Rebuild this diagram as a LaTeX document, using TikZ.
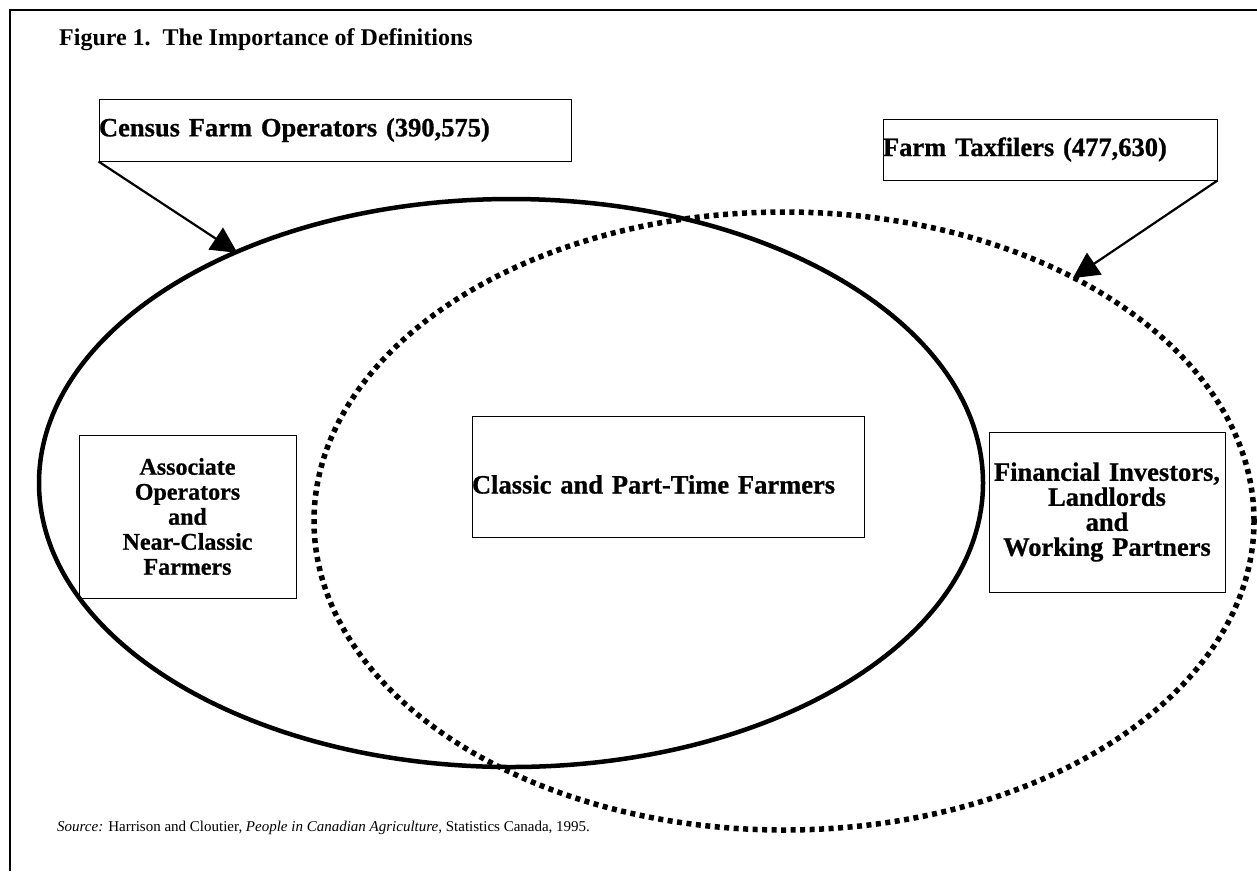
\documentclass[tikz,border=0pt]{standalone}
\usepackage{fontspec}
\setmainfont{Liberation Serif}
\newfontfamily\heavyfont[FakeBold=0.8]{Liberation Serif Bold}
\usetikzlibrary{shapes.geometric,arrows.meta}

\begin{document}
\begin{tikzpicture}[x=1pt, y=-1pt,
    txtbox/.style={draw, line width=1pt, inner sep=0pt, font=\fontsize{26.5}{25}\selectfont\heavyfont},
    setline/.style={ellipse, draw, line width=4.5pt, inner sep=0pt},
    dotline/.style={dash pattern=on 5pt off 4.5pt, line width=5.5pt},
    pointer/.style={line width=2.2pt, shorten >=-4pt, -{Triangle[length=26pt, width=26pt]}}]
  \useasboundingbox (0,0) rectangle (1257,871);

  % Frame
  \draw[line width=1.2pt] (10,871) -- (10,10) -- (1257,10);

  % Title and source
  \node[anchor=base west, inner sep=0pt, font=\fontsize{24}{28}\selectfont\bfseries] (title) at (59,45) {Figure 1.\ \ The Importance of Definitions};
  \node[anchor=base west, inner sep=0pt, font=\fontsize{15}{18}\selectfont] (source) at (57,831) {\textit{Source:} Harrison and Cloutier, \textit{People in Canadian Agriculture}, Statistics Canada, 1995.};

  % Sets
  \node[setline, minimum width=944, minimum height=568] (operators) at (511,483) {};
  \node[setline, dotline, minimum width=940, minimum height=618] (taxfilers) at (784,521) {};

  % Boxes
  \node[txtbox, minimum width=472, minimum height=62, text width=472, align=left] (census) at (335,130) {Census Farm Operators (390,575)};
  \node[txtbox, minimum width=334, minimum height=61, text width=334, align=left] (filers) at (1050,149.5) {Farm Taxfilers (477,630)};
  \node[txtbox, minimum width=217, minimum height=163, text width=217, align=center, font=\fontsize{24}{25}\selectfont\heavyfont] (associate) at (187.5,516.5) {Associate\\Operators\\and\\Near-Classic\\Farmers};
  \node[txtbox, minimum width=392, minimum height=121, text width=392, align=left, text height=34pt, text depth=0pt] (classic) at (668,476.5) {Classic and Part-Time Farmers};
  \node[txtbox, minimum width=236, minimum height=160, text width=236, align=center] (investors) at (1107,512) {Financial Investors,\\Landlords\\and\\Working Partners};

  % Pointers
  \path[pointer] (census.south west) edge (operators.140);
  \path[pointer] (filers.south east) edge (taxfilers.40);
\end{tikzpicture}
\end{document}
